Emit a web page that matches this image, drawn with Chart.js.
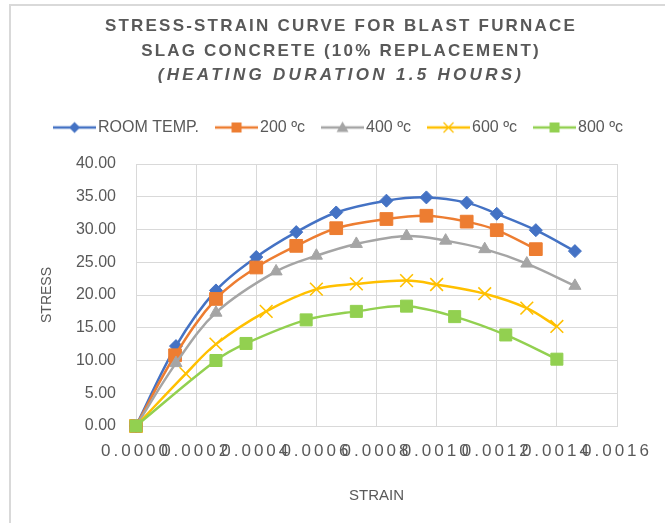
<!DOCTYPE html>
<html><head><meta charset="utf-8">
<script src="https://cdn.jsdelivr.net/npm/chart.js@4.4.1/dist/chart.umd.min.js"></script>
<style>
html,body{margin:0;padding:0;background:#fff;}
#wrap{position:relative;width:665px;height:523px;overflow:hidden;}
#frame{position:absolute;left:9px;top:4px;width:700px;height:600px;border-left:2px solid #d9d9d9;border-top:2px solid #d9d9d9;}
canvas{position:absolute;left:0;top:0;}
</style></head><body>
<div id="wrap"><div id="frame"></div><canvas id="c" width="665" height="523"></canvas></div>
<script>
// ---- data ----
const seriesNames = ['ROOM TEMP.', '200 ºc', '400 ºc', '600 ºc', '800 ºc'];
const strainRoom = [0, 0.000133, 0.000266, 0.0004, 0.000533, 0.000666, 0.000833, 0.000966, 0.0011, 0.0012, 0.00133, 0.00146];
const stressRoom = [0, 12.2, 20.7, 25.8, 29.6, 32.6, 34.4, 34.9, 34.1, 32.4, 29.9, 26.7];
const strain200 = [0, 0.00013, 0.000266, 0.0004, 0.000533, 0.000666, 0.000833, 0.000966, 0.0011, 0.0012, 0.00133];
const stress200 = [0, 10.8, 19.4, 24.2, 27.5, 30.2, 31.6, 32.1, 31.2, 29.9, 27.0];
const strain400 = [0, 0.000133, 0.000266, 0.000466, 0.0006, 0.000733, 0.0009, 0.00103, 0.00116, 0.0013, 0.00146];
const stress400 = [0, 9.6, 17.3, 23.6, 26.0, 27.8, 29.0, 28.3, 27.0, 24.8, 21.4];
const strain600 = [0, 0.000166, 0.000266, 0.000433, 0.0006, 0.000733, 0.0009, 0.001, 0.00116, 0.0013, 0.0014];
const stress600 = [0, 8.0, 12.5, 17.5, 20.9, 21.7, 22.2, 21.6, 20.2, 18.0, 15.2];
const strain800 = [0, 0.000266, 0.000366, 0.000566, 0.000733, 0.0009, 0.00106, 0.00123, 0.0014];
const stress800 = [0, 10.0, 12.6, 16.2, 17.5, 18.3, 16.7, 13.9, 10.2];
const xTickLabels = ['0.0000', '0.0002', '0.0004', '0.0006', '0.0008', '0.0010', '0.0012', '0.0014', '0.0016'];
const yTickLabels = ['0.00', '5.00', '10.00', '15.00', '20.00', '25.00', '30.00', '35.00', '40.00'];

// ---- styles ----
const FONT = 'Liberation Sans';
const TXT = '#595959';
const GRID = '#d9d9d9';
const colors = ['#4472C4', '#ED7D31', '#A5A5A5', '#FFC000', '#92D050'];
const shapes = ['rectRot', 'rect', 'triangle', 'crossRot', 'rect'];
const radii = [6.5, 9, 7, 9, 8.5];

// letter spacing for title and x tick labels
(function(){
  const T = Chart.Title || (Chart.registry && Chart.registry.plugins.get('title'));
  const TitleEl = T && T._element;
  if (TitleEl) {
    const od = TitleEl.prototype.draw;
    TitleEl.prototype.draw = function(){
      const c = this.ctx; c.save();
      const isSub = this.options && typeof this.options.text === 'string';
      try { c.letterSpacing = isSub ? '3.3px' : '2.2px'; } catch(e){}
      od.apply(this, arguments); c.restore();
    };
  }
  const S = Chart.Scale;
  if (S) {
    const dl = S.prototype.drawLabels;
    S.prototype.drawLabels = function(a){
      if (this.id === 'x') { const c = this.ctx; c.save(); try { c.letterSpacing = '3px'; } catch(e){} dl.call(this, a); c.restore(); }
      else dl.call(this, a);
    };
  }
})();

function makeIcon(color, shape){
  const c = document.createElement('canvas'); c.width = 43; c.height = 18;
  const g = c.getContext('2d');
  g.strokeStyle = color; g.fillStyle = color; g.lineWidth = 2.5;
  g.beginPath(); g.moveTo(0, 9); g.lineTo(43, 9); g.stroke();
  const cx = 21.5, cy = 9;
  g.beginPath();
  if (shape === 'rectRot') { g.moveTo(cx, cy-5.5); g.lineTo(cx+5.5, cy); g.lineTo(cx, cy+5.5); g.lineTo(cx-5.5, cy); g.closePath(); g.fill(); }
  else if (shape === 'rect') { g.rect(cx-5, cy-5, 10, 10); g.fill(); }
  else if (shape === 'triangle') { g.moveTo(cx, cy-6); g.lineTo(cx+6, cy+4.5); g.lineTo(cx-6, cy+4.5); g.closePath(); g.fill(); }
  else if (shape === 'crossRot') { g.lineWidth = 1.3; g.moveTo(cx-5, cy-5); g.lineTo(cx+5, cy+5); g.moveTo(cx+5, cy-5); g.lineTo(cx-5, cy+5); g.stroke(); }
  return c;
}
const icons = colors.map((c, i) => makeIcon(c, shapes[i]));

const xs = [strainRoom, strain200, strain400, strain600, strain800];
const ys = [stressRoom, stress200, stress400, stress600, stress800];
const datasets = seriesNames.map((name, i) => ({
  label: name,
  data: xs[i].map((x, j) => ({x: x, y: ys[i][j]})),
  showLine: true,
  borderColor: colors[i],
  backgroundColor: colors[i],
  borderWidth: 2.5,
  tension: 0.35,
  pointStyle: shapes[i],
  pointRadius: radii[i],
  pointHoverRadius: radii[i],
  pointBorderWidth: shapes[i] === 'crossRot' ? 1.6 : 1,
  pointBackgroundColor: colors[i],
  pointBorderColor: colors[i],
  clip: false,
  order: 5 - i
}));

const legendSpace = {
  id: 'legendSpace',
  beforeInit(chart){
    if (!chart.legend) return;
    const f = chart.legend.fit;
    chart.legend.fit = function(){ f.call(this); this.height += 18.5; };
  }
};

new Chart(document.getElementById('c'), {
  type: 'scatter',
  data: { datasets: datasets },
  plugins: [legendSpace],
  options: {
    responsive: false,
    animation: false,
    events: [],
    layout: { padding: { left: 20, right: 3, top: 0, bottom: 18 } },
    plugins: {
      tooltip: { enabled: false },
      title: {
        display: true,
        text: ['STRESS-STRAIN CURVE FOR BLAST FURNACE', 'SLAG CONCRETE (10% REPLACEMENT)'],
        color: TXT,
        font: { family: FONT, size: 17, weight: 'bold', lineHeight: 24.5/17 },
        padding: { top: 14.25, bottom: 0 }
      },
      subtitle: {
        display: true,
        text: '(HEATING DURATION 1.5 HOURS)',
        color: TXT,
        font: { family: FONT, size: 17, weight: 'bold', style: 'italic', lineHeight: 24.5/17 },
        padding: { top: 0, bottom: 9.75 }
      },
      legend: {
        display: true,
        position: 'top',
        labels: {
          usePointStyle: true,
          pointStyleWidth: 31,
          padding: 22,
          color: TXT,
          font: { family: FONT, size: 16 },
          generateLabels(chart){
            return chart.data.datasets.map((ds, i) => ({
              text: ds.label, pointStyle: icons[i], datasetIndex: i, hidden: false,
              fillStyle: ds.borderColor, strokeStyle: ds.borderColor, lineWidth: 0, fontColor: TXT
            }));
          }
        }
      }
    },
    scales: {
      x: {
        type: 'linear', min: 0, max: 0.0016,
        grid: { color: GRID, drawTicks: false, lineWidth: 1 },
        border: { color: GRID },
        ticks: {
          stepSize: 0.0002, autoSkip: false, maxRotation: 0, minRotation: 0,
          padding: 15, color: TXT, font: { family: FONT, size: 17 },
          callback: (v, i) => xTickLabels[i]
        },
        title: { display: true, text: 'STRAIN', color: TXT, font: { family: FONT, size: 15 }, padding: { top: 25, bottom: 0 } },
        afterFit: (s) => { s.height = 79; }
      },
      y: {
        type: 'linear', min: 0, max: 40,
        grid: { color: GRID, drawTicks: false, lineWidth: 1 },
        border: { color: GRID },
        ticks: {
          stepSize: 5, padding: 20, color: TXT, font: { family: FONT, size: 16 },
          callback: (v, i) => yTickLabels[i]
        },
        title: { display: true, text: 'STRESS', color: TXT, font: { family: FONT, size: 14 }, padding: { top: 19, bottom: 0 } },
        afterFit: (s) => { s.width = 116; }
      },
      yRight: {
        type: 'linear', position: 'right', min: 0, max: 40,
        display: true,
        grid: { display: false, drawTicks: false },
        border: { display: false },
        ticks: { display: false },
        afterFit: (s) => { s.width = 45; }
      }
    }
  }
});
</script>
</body></html>
